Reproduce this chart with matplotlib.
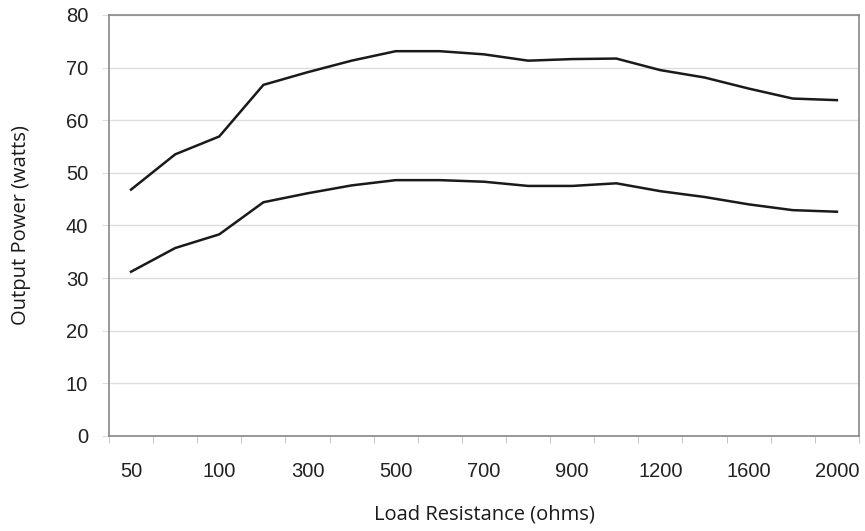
import matplotlib.pyplot as plt
import numpy as np

# Load resistance categories (ohms) and measured output power (watts)
resistance = ["50", "75", "100", "200", "300", "400", "500", "600", "700",
              "800", "900", "1000", "1200", "1400", "1600", "1800", "2000"]
power_high = [46.8, 53.5, 56.9, 66.7, 69.1, 71.3, 73.1, 73.1, 72.5,
              71.3, 71.6, 71.7, 69.5, 68.1, 66.0, 64.1, 63.8]
power_low = [31.2, 35.7, 38.3, 44.4, 46.1, 47.6, 48.6, 48.6, 48.3,
             47.5, 47.5, 48.0, 46.5, 45.4, 44.0, 42.9, 42.6]

fig = plt.figure(figsize=(8.65, 5.31), dpi=100)
ax = fig.add_axes([0.126, 0.179, 0.867, 0.793])

x = np.arange(len(resistance))
ax.plot(x, power_high, color="#1a1a1a", linewidth=1.8)
ax.plot(x, power_low, color="#1a1a1a", linewidth=1.8)

ax.set_xlim(-0.5, len(resistance) - 0.5)
ax.set_ylim(0, 80)
ax.set_yticks(range(0, 81, 10))
ax.yaxis.grid(True, color="#dddddd", linewidth=1)
ax.set_axisbelow(True)

# labels on every other category, tick marks on category boundaries
ax.set_xticks(x[::2])
ax.set_xticklabels(resistance[::2])
ax.set_xticks(np.arange(-0.5, len(resistance), 1), minor=True)
ax.tick_params(axis="x", which="major", length=0, pad=19)
ax.tick_params(axis="x", which="minor", length=5, color="#bbbbbb")
ax.tick_params(axis="y", length=5, color="#dddddd", pad=10)

for lab in ax.get_xticklabels() + ax.get_yticklabels():
    lab.set_fontfamily("Liberation Sans")
    lab.set_fontsize(14.5)
    lab.set_color("#222222")

for side in ["top", "right", "bottom", "left"]:
    ax.spines[side].set_color("#888888")
    ax.spines[side].set_linewidth(1.2)

ax.set_xlabel("Load Resistance (ohms)", fontfamily="Open Sans", fontsize=14.5,
              color="#1a1a1a", labelpad=17)
ax.set_ylabel("Output Power (watts)", fontfamily="Open Sans", fontsize=14.5,
              color="#1a1a1a", labelpad=25)

fig.savefig("out.png", dpi=100)
